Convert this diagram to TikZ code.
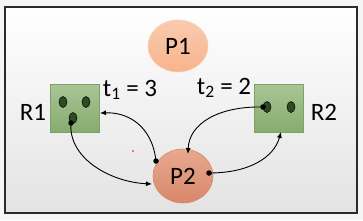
\documentclass[tikz,border=0pt]{standalone}
\usepackage{fontspec}
\setmainfont{Carlito}
\usetikzlibrary{arrows.meta,shapes.geometric}
\definecolor{framec}{HTML}{2B2B2B}
\definecolor{pone}{HTML}{F7B48C}
\definecolor{ponel}{HTML}{FAD0B4}
\definecolor{ptwo}{HTML}{E39A7C}
\definecolor{ptwob}{HTML}{D8876A}
\definecolor{rfill}{HTML}{93B77B}
\definecolor{rfilld}{HTML}{86AC6E}
\definecolor{rdraw}{HTML}{7FA067}
\definecolor{tok}{HTML}{2F4A22}
\tikzset{
  proc/.style={ellipse, minimum width=60pt, minimum height=52pt, inner sep=0pt, font=\fontsize{25}{28}\selectfont},
  res/.style={rectangle, minimum width=49pt, minimum height=48pt, inner sep=0pt, draw=rdraw, line width=0.6pt, top color=rfill!80!white, bottom color=rfilld},
  token/.style={ellipse, minimum width=8pt, minimum height=11pt, inner sep=0pt, fill=tok, draw=black, line width=0.5pt},
  lab/.style={font=\fontsize{25}{28}\selectfont, inner sep=0pt},
  dot/.style={circle, fill=black, minimum size=5.5pt, inner sep=0pt},
  edge/.style={line width=0.9pt, -{Latex[length=6pt,width=5pt]}}
}
\begin{document}
\begin{tikzpicture}[x=1pt,y=-1pt]
\useasboundingbox (0,0) rectangle (363,220);
\fill[gray!8] (0,0) rectangle (363,220);
\shade[top color=white, bottom color=gray!22] (5,7) rectangle (357,213);
\draw[framec, line width=1.4pt] (5,7) rectangle (357,213);
% processes
\node[proc, top color=pone!70!white, bottom color=pone, draw=ponel, line width=0.6pt] (P1) at (178,46) {P1};
\node[proc, minimum height=54pt, top color=ptwo!85!white, bottom color=ptwob, draw=ptwob, line width=0.6pt] (P2) at (183,176) {P2};
% resources
\node[res] (R1) at (75,108) {};
\node[res] (R2) at (279,108) {};
\node[token] (a1) at (63,102) {};
\node[token] (a2) at (86,102) {};
\node[token] (a3) at (73,118) {};
\node[token] (b1) at (267,107) {};
\node[token] (b2) at (291,107) {};
% labels
\node[lab] (L1) at (33,112) {R1};
\node[lab] (L2) at (324,112) {R2};
\node[lab] (T1) at (130,90) {t\textsubscript{1} = 3};
\node[lab] (T2) at (224,88) {t\textsubscript{2} = 2};
% anchor dots
\node[dot] (d1) at (71,123) {};
\node[dot] (d2) at (156,161) {};
\node[dot] (d3) at (209,173) {};
\node[dot] (d4) at (263,107) {};
\coordinate (e1) at (152,184);
\coordinate (e2) at (100,113);
\coordinate (e3) at (188,154);
\coordinate (e4) at (281,132);
\draw[edge] (d1.center) .. controls (68,158) and (110,182) .. (e1);
\draw[edge] (d2.center) .. controls (152,125) and (127,112) .. (e2);
\draw[edge] (d4.center) .. controls (218,106) and (189,124) .. (e3);
\draw[edge] (d3.center) .. controls (250,173) and (274,157) .. (e4);
\fill[red] (133,151) circle (0.9pt);
\end{tikzpicture}
\end{document}
